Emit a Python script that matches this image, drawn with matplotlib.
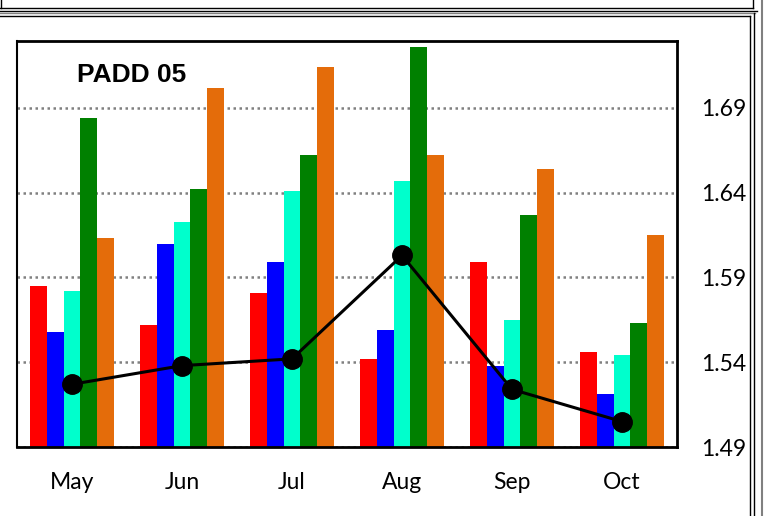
import numpy as np
import matplotlib
matplotlib.use("Agg")
import matplotlib.pyplot as plt
from matplotlib.lines import Line2D

# dados
meses = ["May", "Jun", "Jul", "Aug", "Sep", "Oct"]
serie_vermelha = [1.585, 1.562, 1.581, 1.542, 1.599, 1.546]
serie_azul = [1.558, 1.610, 1.599, 1.559, 1.538, 1.521]
serie_ciano = [1.582, 1.623, 1.641, 1.647, 1.565, 1.544]
serie_verde = [1.684, 1.642, 1.662, 1.726, 1.627, 1.563]
serie_laranja = [1.613, 1.702, 1.714, 1.662, 1.654, 1.615]
linha_media = [1.527, 1.538, 1.542, 1.603, 1.524, 1.505]
yticks = [1.49, 1.54, 1.59, 1.64, 1.69]

W, H = 764, 516
fig = plt.figure(figsize=(W / 100, H / 100), dpi=100)
ax = fig.add_axes([17 / W, 1 - 447 / H, 660 / W, 406 / H])

series = [serie_vermelha, serie_azul, serie_ciano, serie_verde, serie_laranja]
cores = ["#FF0000", "#0000FF", "#00FFCC", "#008000", "#E46C0A"]
x = np.arange(len(meses))
larg = 0.1545
for i, (vals, cor) in enumerate(zip(series, cores)):
    ax.bar(x + (i - 2) * larg, np.array(vals) - 1.49, larg, bottom=1.49,
           color=cor, edgecolor="none", zorder=2)

ax.plot(x, linha_media, color="black", lw=2.2, marker="o", ms=14, zorder=3)

ax.set_xlim(-0.5, 5.5)
ax.set_ylim(1.49, 1.7295)
ax.set_xticks(x)
ax.set_xticklabels(meses)
ax.set_yticks(yticks)
ax.set_yticklabels([f"{v:.2f}" for v in yticks])
ax.yaxis.tick_right()
ax.tick_params(axis="both", length=0, labelsize=16.5)
ax.tick_params(axis="x", pad=18)
ax.tick_params(axis="y", pad=17)
for lab in ax.get_xticklabels() + ax.get_yticklabels():
    lab.set_fontfamily("Lato")

ax.set_axisbelow(True)
ax.yaxis.grid(True, color="#808080", linestyle=(0, (1, 1.4)), linewidth=1.8)

for s in ["top", "right", "bottom"]:
    ax.spines[s].set_linewidth(2)
ax.spines["left"].set_linewidth(1.5)
ax.spines["left"].set_linestyle((0, (1, 1)))

ax.text(60 / 660, (447 - 82) / 406, "PADD 05", transform=ax.transAxes,
        fontsize=19, fontweight="bold", family="Liberation Sans", va="baseline")

# molduras em volta
def linha(x0, y0, x1, y1, cor="black", lw=1.0):
    fig.add_artist(Line2D([x0 / W, x1 / W], [1 - y0 / H, 1 - y1 / H],
                          transform=fig.transFigure, color=cor, lw=lw))

linha(0.5, 0, 0.5, 8)
linha(0, 8, 753, 8)
linha(753, 0, 753, 8)
linha(0, 10.5, 757, 10.5)
linha(0, 13, 755, 13, cor="#808080")
linha(0, 16, 750, 16)
linha(750, 16, 750, 516)
linha(753.5, 13, 753.5, 516)
linha(761.5, 0, 761.5, 516, cor="#808080", lw=1.5)

fig.savefig("out.png", dpi=100)
